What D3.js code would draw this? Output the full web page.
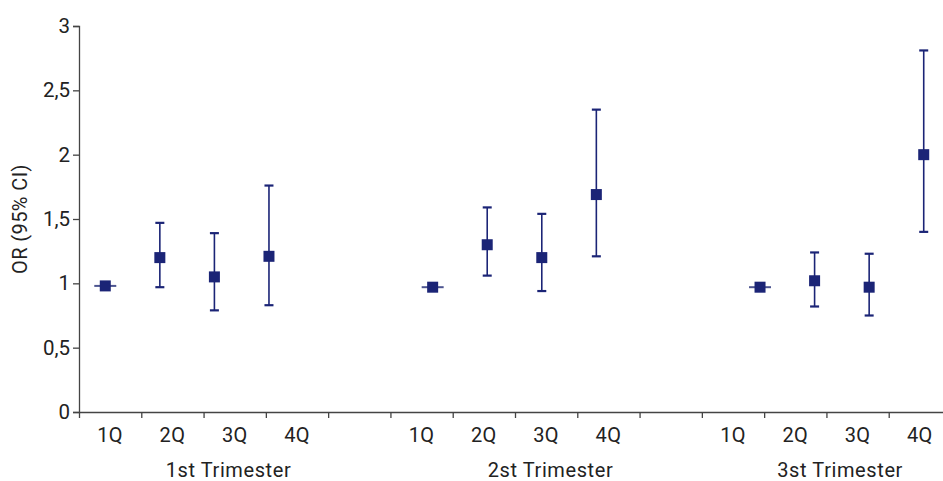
<!DOCTYPE html>
<html>
<head>
<meta charset="utf-8">
<script src="https://cdn.jsdelivr.net/npm/d3@7"></script>
<style>
  body { margin: 0; background: #fff; }
  svg text { font-family: Roboto, "Liberation Sans", sans-serif; fill: #222; }
</style>
</head>
<body>
<svg id="chart" width="943" height="481"></svg>
<script>
// values
var quartiles = ["1Q", "2Q", "3Q", "4Q"];
var trimesters = ["1st Trimester", "2st Trimester", "3st Trimester"];
var orValues = [[0.98, 1.20, 1.05, 1.21], [0.97, 1.30, 1.20, 1.69], [0.97, 1.02, 0.97, 2.00]];
var ciLow    = [[0.98, 0.97, 0.79, 0.83], [0.97, 1.06, 0.94, 1.21], [0.97, 0.82, 0.75, 1.40]];
var ciHigh   = [[0.98, 1.47, 1.39, 1.76], [0.97, 1.59, 1.54, 2.35], [0.97, 1.24, 1.23, 2.81]];
var yTicks = [0, 0.5, 1, 1.5, 2, 2.5, 3];
var labelShift = [0.4, 0.57, 0.22]; // trimester labels sit off-centre in the original

var navy = "#1b2476", axisCol = "#444";
var svg = d3.select("#chart");

var y = d3.scaleLinear().domain([0, 3]).range([412, 26]);
// axis: 4 quartiles + 1 empty slot per trimester
var nAxis = trimesters.length * 5 - 1;
var xAxis = d3.scaleLinear().domain([0, nAxis]).range([79, 951]);
// markers sit on their own grid: 4 slots + 2 empty slots per trimester
var slots = d3.range(trimesters.length * 6 - 2);
var xPt = d3.scaleBand().domain(slots).range([78, 951]);

var points = [];
trimesters.forEach(function(t, ti){
  quartiles.forEach(function(q, qi){
    points.push({slot: ti * 6 + qi, v: orValues[ti][qi], lo: ciLow[ti][qi], hi: ciHigh[ti][qi]});
  });
});

// y axis
var gy = svg.append("g").attr("transform", "translate(79,0)")
  .call(d3.axisLeft(y).tickValues(yTicks).tickSize(6).tickPadding(3)
    .tickFormat(function(d){ return String(d).replace(".", ","); }));
gy.select(".domain").attr("stroke", axisCol).attr("stroke-width", 1.3);
gy.selectAll(".tick line").attr("stroke", axisCol).attr("stroke-width", 1.3);
gy.selectAll(".tick text").attr("font-size", 20.5).attr("fill", "#222");

// x axis
var gx = svg.append("g").attr("transform", "translate(0,412)")
  .call(d3.axisBottom(xAxis).tickValues(d3.range(nAxis)).tickSize(6).tickSizeOuter(0).tickFormat(""));
gx.select(".domain").attr("stroke", axisCol).attr("stroke-width", 1.3);
gx.selectAll(".tick line").attr("stroke", axisCol).attr("stroke-width", 1.3);

var catLabels = [];
trimesters.forEach(function(t, ti){
  quartiles.forEach(function(q, qi){ catLabels.push({i: ti * 5 + qi, q: q}); });
});
svg.append("g").selectAll("text").data(catLabels).enter().append("text")
  .attr("x", function(d){ return xAxis(d.i + 0.5); })
  .attr("y", 442)
  .attr("text-anchor", "middle")
  .attr("font-size", 20)
  .attr("letter-spacing", 0.3)
  .text(function(d){ return d.q; });

svg.append("g").selectAll("text").data(trimesters).enter().append("text")
  .attr("x", function(d, i){ return xAxis(i * 5 + 2 + labelShift[i]); })
  .attr("y", 477)
  .attr("text-anchor", "middle")
  .attr("font-size", 20)
  .attr("letter-spacing", 0.6)
  .text(function(d){ return d; });

svg.append("text")
  .attr("transform", "translate(27," + ((y(0) + y(3)) / 2) + ") rotate(-90)")
  .attr("text-anchor", "middle")
  .attr("font-size", 20)
  .attr("letter-spacing", 0.4)
  .text("OR (95% CI)");

// error bars
var cx = function(d){ return xPt(d.slot) + xPt.bandwidth() / 2; };
var g = svg.append("g");
g.selectAll("line.ci").data(points).enter().append("line")
  .attr("class", "ci")
  .attr("x1", cx).attr("x2", cx)
  .attr("y1", function(d){ return y(d.lo); })
  .attr("y2", function(d){ return y(d.hi); })
  .attr("stroke", navy).attr("stroke-width", 1.6);

// caps; the reference points (zero width CI) get a wider flat line
var caps = [];
points.forEach(function(d){
  if (d.lo === d.hi) caps.push({d: d, v: d.v, w: 11, sw: 2});
  else { caps.push({d: d, v: d.lo, w: 4.5, sw: 2.2}); caps.push({d: d, v: d.hi, w: 4.5, sw: 2.2}); }
});
g.selectAll("line.cap").data(caps).enter().append("line")
  .attr("class", "cap")
  .attr("x1", function(c){ return cx(c.d) - c.w; })
  .attr("x2", function(c){ return cx(c.d) + c.w; })
  .attr("y1", function(c){ return y(c.v); })
  .attr("y2", function(c){ return y(c.v); })
  .attr("stroke", function(c){ return c.w > 5 ? "#4d5590" : navy; })
  .attr("stroke-width", function(c){ return c.sw; });

// markers
var ms = 11;
g.selectAll("rect.pt").data(points).enter().append("rect")
  .attr("class", "pt")
  .attr("x", function(d){ return cx(d) - ms / 2; })
  .attr("y", function(d){ return y(d.v) - ms / 2; })
  .attr("width", ms).attr("height", ms)
  .attr("fill", navy);
</script>
</body>
</html>
